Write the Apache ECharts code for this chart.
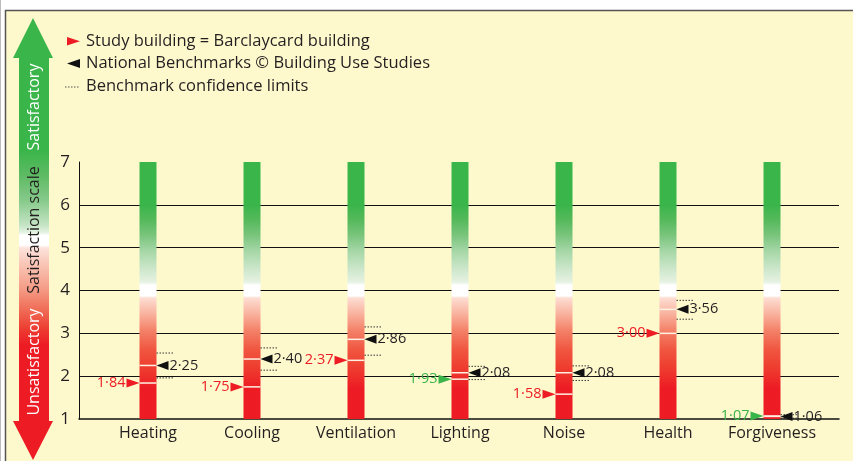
<!DOCTYPE html>
<html>
<head>
<meta charset="utf-8">
<title>Satisfaction scale</title>
<script src="https://cdn.jsdelivr.net/npm/echarts@6/dist/echarts.min.js"></script>
<style>
html, body { margin: 0; padding: 0; background: #fff; }
#chart { width: 853px; height: 461px; }
</style>
</head>
<body>
<div id="chart"></div>
<script>
// data
const categories = ['Heating', 'Cooling', 'Ventilation', 'Lighting', 'Noise', 'Health', 'Forgiveness']
const studyValues = [1.84, 1.75, 2.37, 1.93, 1.58, 3.00, 1.07]
const benchmarkValues = [2.25, 2.40, 2.86, 2.08, 2.08, 3.56, 1.06]
const benchmarkUpper = [2.54, 2.66, 3.15, 2.23, 2.24, 3.77, 1.10]
const benchmarkLower = [1.96, 2.14, 2.49, 1.92, 1.90, 3.33, 1.02]
const barLow = [1, 1, 1, 1, 1, 1, 1]
const barHigh = [7, 7, 7, 7, 7, 7, 7]
const scaleTicks = [1, 2, 3, 4, 5, 6, 7]

const FONT = '"Open Sans", "Noto Sans", sans-serif'
const INK = '#231F20'
const RED = '#ED1C24'
const GREEN = '#3AB54A'

const chart = echarts.init(document.getElementById('chart'))

// red -> white -> green colour scale used in the bars
const barGradient = new echarts.graphic.LinearGradient(0, 0, 0, 1, [
    { offset: 0, color: GREEN },
    { offset: 0.167, color: GREEN },
    { offset: 0.226, color: '#55B95B' },
    { offset: 0.284, color: '#78C47C' },
    { offset: 0.342, color: '#A3D5A3' },
    { offset: 0.412, color: '#CBE6C9' },
    { offset: 0.467, color: '#E6F2E2' },
    { offset: 0.479, color: '#FFFFFF' },
    { offset: 0.521, color: '#FFFFFF' },
    { offset: 0.529, color: '#FDDDD3' },
    { offset: 0.584, color: '#F9B7A3' },
    { offset: 0.654, color: '#F4826A' },
    { offset: 0.732, color: '#F0553F' },
    { offset: 0.809, color: '#EE3A2E' },
    { offset: 0.879, color: RED },
    { offset: 1, color: RED }
])

// the big arrow on the left
const arrowGradient = new echarts.graphic.LinearGradient(0, 0, 0, 1, [
    { offset: 0, color: GREEN },
    { offset: 0.299, color: GREEN },
    { offset: 0.355, color: '#5DBB63' },
    { offset: 0.412, color: '#86C98A' },
    { offset: 0.468, color: '#C4E4C4' },
    { offset: 0.486, color: '#E6F3E4' },
    { offset: 0.491, color: '#FFFFFF' },
    { offset: 0.514, color: '#FFFFFF' },
    { offset: 0.520, color: '#FDE3DC' },
    { offset: 0.559, color: '#F9C4B4' },
    { offset: 0.615, color: '#F49A84' },
    { offset: 0.661, color: '#F06B55' },
    { offset: 0.706, color: '#ED3A30' },
    { offset: 0.740, color: RED },
    { offset: 1, color: RED }
])

const fmt = (v) => v.toFixed(2).replace('.', '·')

const BAR_W = 17

function renderBar (params, api) {
    const i = api.value(0)
    const top = api.coord([i, api.value(2)])
    const bottom = api.coord([i, api.value(1)])
    return {
        type: 'rect',
        shape: { x: top[0] - BAR_W / 2, y: top[1], width: BAR_W, height: bottom[1] - top[1] },
        style: { fill: barGradient }
    }
}

function renderMarkers (params, api) {
    const i = api.value(0)
    const study = api.value(1)
    const bench = api.value(2)
    const up = api.value(3)
    const lo = api.value(4)
    const ps = api.coord([i, study])
    const pb = api.coord([i, bench])
    const pu = api.coord([i, up])
    const pl = api.coord([i, lo])
    const xl = ps[0] - BAR_W / 2
    const xr = ps[0] + BAR_W / 2
    // study shown green when inside the benchmark confidence limits
    const sc = (study >= lo && study <= up) ? GREEN : RED
    return {
        type: 'group',
        children: [
            { type: 'line', shape: { x1: xl, y1: ps[1], x2: xr, y2: ps[1] }, style: { stroke: '#FFF1E2', lineWidth: 1.5 } },
            { type: 'line', shape: { x1: xl, y1: pb[1], x2: xr, y2: pb[1] }, style: { stroke: '#FFF1E2', lineWidth: 1.5 } },
            { type: 'line', shape: { x1: xr, y1: pu[1], x2: xr + 17, y2: pu[1] }, style: { stroke: '#333', lineWidth: 1, lineDash: [1.5, 1.5] } },
            { type: 'line', shape: { x1: xr, y1: pl[1], x2: xr + 17, y2: pl[1] }, style: { stroke: '#333', lineWidth: 1, lineDash: [1.5, 1.5] } },
            { type: 'polygon', shape: { points: [[xl, ps[1]], [xl - 13, ps[1] - 4.5], [xl - 13, ps[1] + 4.5]] }, style: { fill: sc } },
            { type: 'text', x: xl - 14, y: ps[1], style: { text: fmt(study), fill: sc, fontSize: 14.5, fontFamily: FONT, align: 'right', verticalAlign: 'middle' } },
            { type: 'polygon', shape: { points: [[xr, pb[1]], [xr + 12, pb[1] - 4.5], [xr + 12, pb[1] + 4.5]] }, style: { fill: '#111' } },
            { type: 'text', x: xr + 13, y: pb[1], style: { text: fmt(bench), fill: INK, fontSize: 14.5, fontFamily: FONT, align: 'left', verticalAlign: 'middle' } }
        ]
    }
}

const legendText = (text, y) => ({
    type: 'text', x: 86, y: y,
    style: { text: text, fill: INK, fontSize: 16.5, fontFamily: FONT, verticalAlign: 'middle' }
})

const arrowText = (text, y, color) => ({
    type: 'text', x: 34, y: y, rotation: Math.PI / 2, z: 5,
    style: { text: text, fill: color, fontSize: 16, fontFamily: FONT, align: 'center', verticalAlign: 'middle' }
})

const option = {
    animation: false,
    textStyle: { fontFamily: FONT },
    graphic: [
        { type: 'rect', z: -100, shape: { x: 5.5, y: 10.5, width: 900, height: 500 }, style: { fill: '#FEF9CD', stroke: '#555', lineWidth: 1.5 } },
        { type: 'line', z: -100, shape: { x1: 0.5, y1: 0, x2: 0.5, y2: 461 }, style: { stroke: '#bbb', lineWidth: 1 } },
        {
            type: 'polygon', z: 1,
            shape: { points: [[33, 18], [53, 58], [49, 58], [49, 421], [53, 421], [33, 460], [13, 421], [19, 421], [19, 58], [13, 58]] },
            style: { fill: arrowGradient }
        },
        arrowText('Satisfactory', 107, '#fff'),
        arrowText('Satisfaction scale', 230, INK),
        arrowText('Unsatisfactory', 362, '#fff'),
        // legend
        { type: 'polygon', shape: { points: [[67, 37], [67, 45.5], [80, 41.2]] }, style: { fill: RED } },
        legendText('Study building = Barclaycard building', 41.5),
        { type: 'polygon', shape: { points: [[67, 63.5], [80, 59], [80, 68]] }, style: { fill: '#111' } },
        legendText('National Benchmarks © Building Use Studies', 63.5),
        { type: 'line', shape: { x1: 65, y1: 87, x2: 80, y2: 87 }, style: { stroke: '#555', lineWidth: 1, lineDash: [1.5, 1.5] } },
        legendText('Benchmark confidence limits', 86.5)
    ],
    grid: [
        { left: 79, right: 14, top: 162, bottom: 42 },
        { left: 96, right: 29, top: 162, bottom: 42 }
    ],
    xAxis: [
        {
            gridIndex: 0, type: 'value', min: 0, max: 1,
            axisLine: { show: true, lineStyle: { color: '#111', width: 1.5 } },
            axisTick: { show: false }, axisLabel: { show: false }, splitLine: { show: false }
        },
        {
            gridIndex: 1, type: 'category', data: categories,
            axisLine: { show: false }, axisTick: { show: false },
            axisLabel: { interval: 0, fontSize: 16, color: INK, fontFamily: FONT, margin: 6 }
        }
    ],
    yAxis: [
        {
            gridIndex: 0, type: 'value',
            min: scaleTicks[0], max: scaleTicks[scaleTicks.length - 1], interval: 1,
            axisLine: { show: true, lineStyle: { color: '#111', width: 1 } },
            axisTick: { show: false },
            axisLabel: { fontSize: 17, color: INK, fontFamily: FONT, margin: 9 },
            splitLine: { show: true, showMinLine: false, showMaxLine: false, lineStyle: { color: '#111', width: 1 } }
        },
        {
            gridIndex: 1, type: 'value',
            min: scaleTicks[0], max: scaleTicks[scaleTicks.length - 1], show: false
        }
    ],
    series: [
        {
            type: 'custom', xAxisIndex: 1, yAxisIndex: 1, clip: false,
            renderItem: renderBar,
            encode: { x: 0, y: [1, 2] },
            data: categories.map((c, i) => [i, barLow[i], barHigh[i]])
        },
        {
            type: 'custom', xAxisIndex: 1, yAxisIndex: 1, clip: false, z: 3,
            renderItem: renderMarkers,
            encode: { x: 0, y: [1, 2, 3, 4] },
            data: categories.map((c, i) => [i, studyValues[i], benchmarkValues[i], benchmarkUpper[i], benchmarkLower[i]])
        }
    ]
}
chart.setOption(option)
</script>
</body>
</html>
